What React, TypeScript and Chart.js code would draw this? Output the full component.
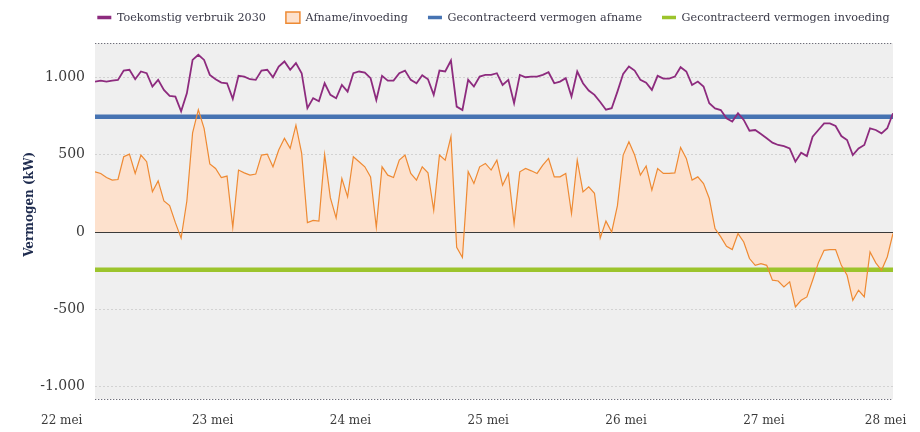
import React, { useEffect, useRef } from 'react';
import { Chart, registerables } from 'chart.js';

Chart.register(...registerables);

// time axis: hours since 22 mei 00:00, one value per hour
const startHour = 3.5;
const stepHours = 1;

const verbruik2030 = [
  972, 978, 972, 978, 983, 1043, 1048, 987, 1037, 1026,
  940, 983, 918, 880, 875, 780, 896, 1112, 1145, 1112,
  1015, 987, 965, 961, 860, 1009, 1004, 987, 983, 1043,
  1048, 1000, 1069, 1102, 1048, 1091, 1026, 800, 865, 845,
  961, 886, 864, 950, 907, 1026, 1037, 1030, 994, 853,
  1009, 978, 978, 1026, 1043, 983, 961, 1013, 987, 886,
  1043, 1037, 1108, 810, 788, 983, 940, 1004, 1015, 1015,
  1026, 950, 983, 832, 1015, 1000, 1004, 1004, 1015, 1032,
  961, 972, 994, 875, 1037, 961, 914, 886, 840, 790,
  800, 907, 1022, 1069, 1043, 983, 965, 918, 1009, 991,
  991, 1004, 1065, 1037, 950, 972, 940, 832, 799, 788,
  734, 713, 767, 724, 654, 659, 633, 605, 577, 562,
  555, 540, 454, 512, 490, 616, 659, 702, 702, 685,
  620, 594, 497, 540, 562, 670, 659, 637, 670, 767,
];

const afnameInvoeding = [
  389, 378, 352, 335, 339, 486, 503, 378, 497, 454,
  260, 330, 200, 170, 60, -40, 200, 640, 790, 670,
  440, 410, 352, 361, 30, 400, 382, 367, 374, 497,
  503, 421, 529, 605, 540, 690, 508, 60, 75, 70,
  500, 220, 90, 345, 227, 486, 454, 421, 356, 30,
  421, 367, 352, 464, 497, 378, 335, 421, 382, 140,
  497, 464, 616, -100, -165, 390, 313, 421, 443, 400,
  464, 302, 378, 54, 389, 410, 395, 378, 432, 475,
  356, 356, 378, 119, 464, 259, 292, 250, -40, 70,
  0, 170, 497, 583, 497, 367, 426, 270, 410, 378,
  378, 382, 546, 475, 335, 356, 313, 216, 22, -32,
  -93, -114, -11, -65, -172, -216, -205, -216, -312, -317,
  -356, -323, -485, -442, -420, -312, -200, -119, -114, -114,
  -216, -280, -442, -377, -420, -129, -200, -248, -162, -10,
];

const contractAfname = 745;
const contractInvoeding = -245;

const seriesLabels = [
  'Toekomstig verbruik 2030',
  'Afname/invoeding',
  'Gecontracteerd vermogen afname',
  'Gecontracteerd vermogen invoeding',
];

const dayLabels = ['22 mei', '23 mei', '24 mei', '25 mei', '26 mei', '27 mei', '28 mei'];
const dayTickHours = [-2.3, 24, 48, 72, 96, 120, 141.2];

const yTickValues = [-1000, -500, 0, 500, 1000];
const yMin = -1080;
const yMax = 1220;

const PURPLE = '#8d2b7e';
const ORANGE = '#ee8a33';
const PEACH = '#fde1cd';
const BLUE = '#4673b2';
const GREEN = '#9cc42c';
const FONT = "'DejaVu Serif', serif";

function formatNL(v: number): string {
  const s = Math.abs(v).toString().replace(/\B(?=(\d{3})+(?!\d))/g, '.');
  return (v < 0 ? '-' : '') + s;
}

export default function App() {
  const canvasRef = useRef<HTMLCanvasElement>(null);

  useEffect(() => {
    document.body.style.overflow = 'hidden';
    const canvas = canvasRef.current;
    if (!canvas) return;
    const endHour = startHour + (verbruik2030.length - 1) * stepHours;
    const toPoints = (arr: number[]) => arr.map((v, i) => ({ x: startHour + i * stepHours, y: v }));
    const flat = (v: number) => [
      { x: startHour, y: v },
      { x: endHour, y: v },
    ];

    const decor = {
      id: 'decor',
      afterLayout(chart: any) {
        const lg = chart.legend;
        if (lg) {
          lg.left += 43;
          lg.right += 43;
          lg.top -= 10;
          lg.bottom -= 10;
        }
      },
      beforeDraw(chart: any) {
        const { ctx, chartArea: a } = chart;
        ctx.save();
        ctx.fillStyle = '#efefef';
        ctx.fillRect(a.left, a.top, a.right - a.left, a.bottom - a.top);
        ctx.restore();
      },
      beforeDatasetsDraw(chart: any) {
        const { ctx, chartArea: a, scales } = chart;
        const y0 = Math.round(scales.y.getPixelForValue(0)) + 0.5;
        ctx.save();
        ctx.strokeStyle = '#3a3a3a';
        ctx.lineWidth = 1.2;
        ctx.beginPath();
        ctx.moveTo(a.left, y0);
        ctx.lineTo(a.right, y0);
        ctx.stroke();
        ctx.restore();
      },
      afterDraw(chart: any) {
        const { ctx, chartArea: a } = chart;
        ctx.save();
        ctx.strokeStyle = '#6f6f7a';
        ctx.lineWidth = 1.2;
        ctx.setLineDash([1.3, 1.7]);
        [a.top, a.bottom].forEach((yy: number) => {
          ctx.beginPath();
          ctx.moveTo(a.left, Math.round(yy) + 0.5);
          ctx.lineTo(a.right, Math.round(yy) + 0.5);
          ctx.stroke();
        });
        ctx.restore();
      },
    };

    const chart = new Chart(canvas, {
      type: 'line',
      data: {
        datasets: [
          {
            label: seriesLabels[0],
            data: toPoints(verbruik2030),
            borderColor: PURPLE,
            borderWidth: 1.8,
            pointRadius: 0,
            fill: false,
            order: 1,
          },
          {
            label: seriesLabels[1],
            data: toPoints(afnameInvoeding),
            borderColor: ORANGE,
            backgroundColor: PEACH,
            borderWidth: 1.2,
            pointRadius: 0,
            fill: 'origin',
            order: 2,
          },
          {
            label: seriesLabels[2],
            data: flat(contractAfname),
            borderColor: BLUE,
            borderWidth: 4.5,
            pointRadius: 0,
            fill: false,
            order: 3,
          },
          {
            label: seriesLabels[3],
            data: flat(contractInvoeding),
            borderColor: GREEN,
            borderWidth: 4.5,
            pointRadius: 0,
            fill: false,
            order: 3,
          },
        ],
      },
      options: {
        responsive: true,
        maintainAspectRatio: false,
        animation: false,
        layout: { padding: { top: 2, right: 19, bottom: 0, left: 0 } },
        plugins: {
          filler: { drawTime: 'beforeDatasetsDraw' },
          tooltip: { enabled: false },
          legend: {
            position: 'top',
            align: 'center',
            fullSize: true,
            labels: {
              usePointStyle: true,
              pointStyleWidth: 14,
              padding: 20,
              color: '#3a3a48',
              font: { family: FONT, size: 11.2 },
              generateLabels: (ch: any) =>
                ch.data.datasets.map((ds: any, i: number) => ({
                  text: ds.label,
                  datasetIndex: i,
                  hidden: false,
                  fillStyle: i === 1 ? PEACH : ds.borderColor,
                  strokeStyle: ds.borderColor,
                  lineWidth: i === 1 ? 1.5 : 3.5,
                  pointStyle: i === 1 ? 'rect' : 'line',
                  fontColor: '#3a3a48',
                })),
            },
          },
        },
        scales: {
          x: {
            type: 'linear',
            min: startHour,
            max: endHour,
            afterBuildTicks: (s: any) => {
              s.ticks = dayTickHours.map((v) => ({ value: v }));
            },
            afterFit: (s: any) => {
              s.height = 33;
              s.paddingLeft = 0;
              s.paddingRight = 0;
            },
            grid: { display: false, drawTicks: false },
            border: { display: false },
            ticks: {
              autoSkip: false,
              maxRotation: 0,
              padding: 15,
              color: '#3a3a3a',
              font: { family: FONT, size: 12 },
              callback: (_v: any, i: number) => dayLabels[i],
            },
          },
          y: {
            type: 'linear',
            min: yMin,
            max: yMax,
            afterBuildTicks: (s: any) => {
              s.ticks = yTickValues.map((v) => ({ value: v }));
            },
            afterFit: (s: any) => {
              s.width = 87;
              s.paddingTop = 0;
              s.paddingBottom = 0;
            },
            grid: {
              drawTicks: false,
              color: (c: any) => (c.tick && c.tick.value === 0 ? 'rgba(0,0,0,0)' : '#d2d2d2'),
              lineWidth: 1,
            },
            border: { display: false, dash: [2, 2] },
            ticks: {
              padding: 10,
              color: '#3a3a3a',
              font: { family: FONT, size: 14 },
              callback: (v: any) => formatNL(Number(v)),
            },
            title: {
              display: true,
              text: '        Vermogen (kW)',
              color: '#1f2c4f',
              font: { family: FONT, size: 12, weight: 'bold' },
              padding: { top: 15, bottom: 0 },
            },
          },
        },
      },
      plugins: [decor],
    } as any);

    return () => chart.destroy();
  }, []);

  return (
    <div style={{ position: 'relative', width: 904, height: 432, marginTop: -8, marginBottom: -8 }}>
      <canvas ref={canvasRef} />
    </div>
  );
}
